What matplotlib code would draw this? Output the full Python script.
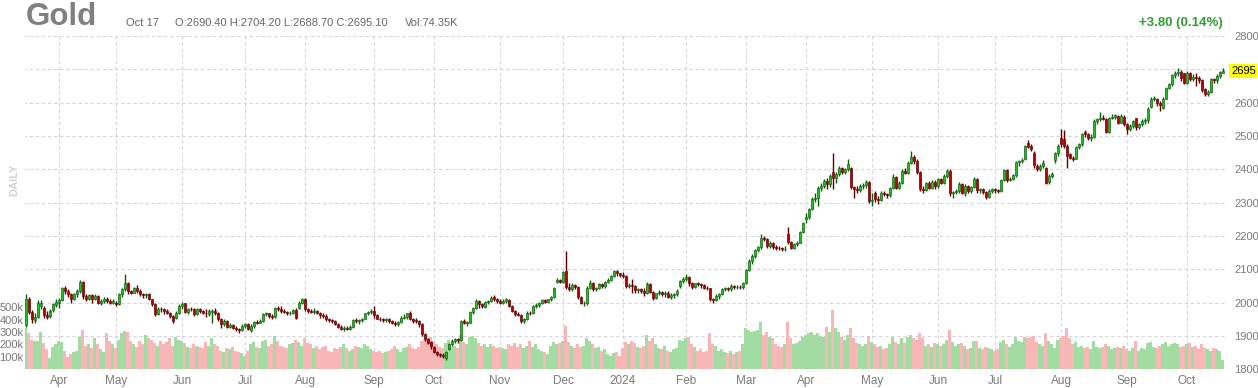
import numpy as np
import pandas as pd
import matplotlib
matplotlib.use('Agg')
import matplotlib.pyplot as plt
import matplotlib.transforms as mtransforms

plt.rcParams['font.family'] = ['Liberation Sans', 'DejaVu Sans']

# trading calendar (exchange holidays skipped)
holidays = ['2023-04-07', '2023-05-29', '2023-06-19', '2023-07-04', '2023-09-04',
            '2023-11-23', '2023-12-25', '2024-01-01', '2024-01-15', '2024-02-19',
            '2024-03-29', '2024-05-27', '2024-06-19', '2024-07-04', '2024-09-02']
days = pd.bdate_range('2023-03-17', '2024-10-17', freq='C', holidays=holidays)

month_labels = ['Apr', 'May', 'Jun', 'Jul', 'Aug', 'Sep', 'Oct', 'Nov', 'Dec', '2024',
                'Feb', 'Mar', 'Apr', 'May', 'Jun', 'Jul', 'Aug', 'Sep', 'Oct']

opens = [
    1932, 2010, 1972, 1948, 1958, 1990, 1985, 1962, 1960, 1978, 1993,
    2000, 2008, 2043, 2035, 2025, 2012, 2025, 2035, 2062, 2020, 2012, 2022, 2012, 2020, 1998, 2005, 2012, 2005, 2000,
    2000, 1995, 2025, 2040, 2060, 2035, 2030, 2045, 2035, 2025, 2022, 2025, 2010, 1995, 1965, 1982, 1980, 1975, 1970, 1960, 1955, 1970,
    1990, 1998, 1972, 1982, 1980, 1965, 1980, 1975, 1970, 1965, 1972, 1975, 1970, 1950, 1935, 1945, 1928, 1932, 1925, 1922, 1918,
    1930, 1935, 1918, 1930, 1942, 1940, 1945, 1965, 1968, 1960, 1958, 1985, 1980, 1975, 1972, 1968, 1970, 1978, 1985, 2000,
    2010, 1980, 1975, 1972, 1975, 1968, 1962, 1960, 1950, 1948, 1945, 1935, 1928, 1922, 1925, 1922, 1928, 1948, 1945, 1948, 1952, 1968, 1972,
    1975, 1962, 1952, 1950, 1948, 1950, 1945, 1940, 1935, 1942, 1955, 1958, 1968, 1952, 1948, 1945, 1935, 1905, 1890, 1882,
    1868, 1852, 1845, 1842, 1835, 1862, 1875, 1885, 1890, 1888, 1945, 1940, 1940, 1972, 1985, 2005, 1995, 1988, 2002, 2005, 2018, 2010,
    2005, 2000, 2005, 2008, 1990, 1975, 1965, 1963, 1945, 1950, 1970, 1968, 1990, 1993, 1998, 2008, 2003, 2010, 2018, 2062, 2068,
    2062, 2095, 2048, 2040, 2052, 2047, 2018, 1998, 1998, 2045, 2060, 2040, 2045, 2055, 2050, 2062, 2068, 2080, 2095, 2088,
    2082, 2080, 2050, 2053, 2050, 2038, 2040, 2035, 2028, 2055, 2033, 2013, 2028, 2032, 2025, 2028, 2018, 2022, 2025, 2050, 2065,
    2072, 2078, 2060, 2048, 2058, 2055, 2052, 2045, 2043, 2010, 2008, 2020, 2025, 2040, 2043, 2040, 2050, 2046, 2048, 2046,
    2058, 2098, 2126, 2141, 2158, 2166, 2195, 2192, 2170, 2180, 2168, 2165, 2164, 2160, 2205, 2183, 2165, 2175, 2180, 2212,
    2250, 2258, 2280, 2312, 2315, 2345, 2350, 2365, 2355, 2392, 2375, 2385, 2405, 2393, 2400, 2405, 2346, 2342, 2338, 2350, 2352, 2362,
    2305, 2330, 2310, 2308, 2330, 2325, 2322, 2343, 2378, 2345, 2360, 2395, 2390, 2420, 2438, 2425, 2393, 2340, 2338, 2358, 2345, 2362,
    2350, 2370, 2360, 2380, 2395, 2328, 2332, 2335, 2355, 2330, 2350, 2335, 2348, 2372, 2338, 2340, 2333, 2318, 2335,
    2340, 2338, 2336, 2368, 2398, 2368, 2372, 2382, 2422, 2425, 2430, 2478, 2470, 2450, 2410, 2400, 2410, 2403, 2362, 2380, 2428, 2448,
    2495, 2490, 2470, 2445, 2435, 2432, 2467, 2475, 2512, 2505, 2493, 2497, 2545, 2550, 2555, 2552, 2513, 2555, 2557, 2560, 2540, 2558,
    2535, 2522, 2530, 2553, 2528, 2535, 2545, 2548, 2588, 2612, 2610, 2598, 2585, 2612, 2645, 2655, 2682, 2688, 2692, 2688,
    2660, 2688, 2670, 2678, 2675, 2668, 2640, 2625, 2632, 2670, 2668, 2680, 2690.4,
]
highs = [
    2025, 2018, 1978, 1968, 2008, 2008, 1990, 1975, 1980, 2000, 2010,
    2015, 2048, 2050, 2040, 2030, 2030, 2040, 2068, 2066, 2025, 2025, 2025, 2025, 2022, 2010, 2018, 2018, 2010, 2012,
    2005, 2030, 2045, 2087, 2062, 2038, 2048, 2052, 2040, 2030, 2030, 2028, 2012, 1998, 1988, 1988, 1985, 1982, 1972, 1962, 1975, 1995,
    2002, 2000, 1985, 1988, 1983, 1985, 1985, 1978, 1980, 1980, 1980, 1985, 1972, 1955, 1950, 1948, 1938, 1935, 1930, 1925, 1935,
    1938, 1938, 1935, 1945, 1948, 1950, 1970, 1972, 1970, 1965, 1988, 1990, 1990, 1982, 1975, 1975, 1982, 1985, 2005, 2015,
    2013, 1985, 1982, 1985, 1978, 1972, 1968, 1965, 1955, 1952, 1948, 1940, 1932, 1930, 1930, 1932, 1952, 1955, 1950, 1955, 1970, 1975, 1980,
    1990, 1965, 1958, 1955, 1955, 1955, 1948, 1945, 1945, 1960, 1965, 1970, 1975, 1955, 1955, 1948, 1938, 1908, 1895, 1886,
    1870, 1855, 1850, 1848, 1856, 1880, 1890, 1895, 1895, 1948, 1950, 1945, 1975, 1988, 2010, 2008, 1998, 2005, 2008, 2020, 2022, 2015,
    2010, 2010, 2015, 2010, 1992, 1978, 1972, 1965, 1955, 1975, 1975, 1992, 1998, 2002, 2010, 2012, 2012, 2020, 2048, 2075, 2072,
    2095, 2155, 2058, 2058, 2055, 2050, 2020, 2005, 2050, 2068, 2062, 2048, 2058, 2060, 2065, 2075, 2082, 2098, 2098, 2090,
    2092, 2082, 2060, 2070, 2052, 2045, 2045, 2045, 2062, 2058, 2035, 2030, 2038, 2035, 2035, 2035, 2028, 2030, 2040, 2068, 2078,
    2085, 2080, 2062, 2060, 2062, 2060, 2055, 2050, 2045, 2015, 2025, 2030, 2045, 2048, 2048, 2055, 2052, 2052, 2052, 2062,
    2100, 2130, 2145, 2162, 2170, 2205, 2200, 2195, 2185, 2182, 2172, 2170, 2166, 2170, 2228, 2185, 2180, 2185, 2215, 2242,
    2270, 2285, 2318, 2330, 2350, 2358, 2372, 2375, 2385, 2448, 2392, 2410, 2408, 2405, 2432, 2408, 2350, 2350, 2355, 2360, 2368, 2365,
    2330, 2335, 2320, 2335, 2335, 2330, 2348, 2385, 2380, 2365, 2400, 2405, 2425, 2455, 2442, 2430, 2395, 2350, 2362, 2365, 2368, 2368,
    2375, 2375, 2385, 2400, 2400, 2335, 2340, 2362, 2358, 2355, 2352, 2350, 2378, 2375, 2345, 2345, 2335, 2340, 2345,
    2345, 2342, 2372, 2402, 2400, 2378, 2385, 2425, 2428, 2435, 2472, 2488, 2475, 2455, 2415, 2415, 2428, 2408, 2385, 2392, 2452, 2475,
    2522, 2518, 2475, 2450, 2440, 2470, 2480, 2510, 2518, 2508, 2505, 2550, 2555, 2572, 2562, 2555, 2558, 2565, 2565, 2562, 2565, 2562,
    2538, 2535, 2548, 2555, 2540, 2550, 2555, 2588, 2618, 2620, 2615, 2605, 2618, 2648, 2658, 2685, 2695, 2705, 2698, 2690,
    2695, 2692, 2685, 2688, 2680, 2670, 2645, 2638, 2675, 2675, 2685, 2695, 2704.2,
]
lows = [
    1928, 1965, 1940, 1940, 1955, 1982, 1955, 1952, 1955, 1972, 1988,
    1985, 2004, 2025, 2018, 2000, 2008, 2018, 2030, 2012, 2005, 2008, 1998, 2008, 1995, 1992, 2000, 2000, 1995, 1995,
    1990, 1992, 2018, 2035, 2025, 2025, 2028, 2030, 2020, 2015, 2015, 2008, 1990, 1960, 1962, 1972, 1965, 1965, 1955, 1940, 1950, 1965,
    1980, 1970, 1965, 1975, 1960, 1962, 1970, 1965, 1958, 1960, 1938, 1962, 1945, 1925, 1930, 1925, 1925, 1920, 1915, 1908, 1915,
    1925, 1918, 1912, 1925, 1935, 1938, 1942, 1960, 1955, 1952, 1955, 1975, 1968, 1968, 1962, 1962, 1965, 1950, 1980, 1995,
    1975, 1970, 1968, 1965, 1965, 1955, 1955, 1945, 1942, 1940, 1932, 1925, 1918, 1915, 1918, 1918, 1925, 1940, 1935, 1942, 1950, 1962, 1965,
    1955, 1950, 1945, 1942, 1942, 1940, 1935, 1930, 1930, 1938, 1950, 1952, 1948, 1938, 1938, 1928, 1900, 1885, 1875, 1862,
    1848, 1840, 1836, 1835, 1828, 1858, 1870, 1880, 1880, 1885, 1935, 1930, 1938, 1965, 1982, 1985, 1985, 1985, 1995, 2002, 2005, 2000,
    1995, 1995, 2000, 1988, 1972, 1960, 1960, 1940, 1940, 1948, 1962, 1965, 1985, 1988, 1995, 1998, 2000, 2005, 2015, 2058, 2058,
    2058, 2040, 2035, 2035, 2040, 2012, 1995, 1990, 1992, 2040, 2035, 2035, 2042, 2045, 2045, 2058, 2065, 2078, 2080, 2078,
    2075, 2045, 2045, 2030, 2030, 2030, 2030, 2020, 2025, 2030, 2008, 2010, 2022, 2020, 2018, 2015, 2012, 2015, 2020, 2045, 2058,
    2065, 2050, 2040, 2045, 2050, 2045, 2040, 2038, 2005, 2000, 2005, 2012, 2022, 2035, 2035, 2035, 2040, 2040, 2040, 2042,
    2055, 2095, 2115, 2135, 2152, 2160, 2185, 2165, 2165, 2162, 2158, 2158, 2155, 2155, 2175, 2160, 2162, 2170, 2178, 2208,
    2240, 2252, 2278, 2302, 2290, 2335, 2345, 2340, 2348, 2342, 2360, 2380, 2385, 2385, 2395, 2340, 2315, 2330, 2332, 2342, 2345, 2300,
    2290, 2302, 2295, 2305, 2320, 2315, 2318, 2340, 2340, 2340, 2355, 2385, 2385, 2415, 2415, 2385, 2335, 2330, 2335, 2340, 2340, 2340,
    2345, 2355, 2355, 2375, 2320, 2315, 2325, 2330, 2325, 2320, 2330, 2330, 2345, 2330, 2330, 2325, 2310, 2315, 2330,
    2330, 2328, 2332, 2365, 2362, 2365, 2368, 2378, 2410, 2420, 2428, 2465, 2455, 2405, 2395, 2395, 2405, 2355, 2355, 2375, 2420, 2440,
    2468, 2465, 2403, 2430, 2425, 2430, 2460, 2470, 2498, 2488, 2485, 2495, 2535, 2545, 2548, 2510, 2510, 2550, 2550, 2535, 2538, 2530,
    2505, 2515, 2525, 2518, 2522, 2530, 2535, 2540, 2585, 2605, 2590, 2575, 2580, 2610, 2640, 2650, 2675, 2680, 2665, 2655,
    2655, 2665, 2665, 2650, 2660, 2632, 2620, 2620, 2628, 2660, 2660, 2675, 2688.7,
]
closes = [
    2010, 1972, 1950, 1958, 2000, 2000, 1962, 1958, 1975, 1995, 2003,
    2008, 2043, 2035, 2025, 2012, 2025, 2035, 2062, 2020, 2012, 2022, 2012, 2020, 1998, 2005, 2012, 2005, 2000, 2005,
    1995, 2025, 2040, 2060, 2035, 2030, 2045, 2035, 2025, 2022, 2025, 2012, 1995, 1965, 1982, 1980, 1975, 1970, 1960, 1945, 1970, 1990,
    1995, 1972, 1982, 1980, 1965, 1980, 1975, 1970, 1968, 1975, 1976, 1970, 1950, 1935, 1945, 1928, 1932, 1925, 1922, 1918, 1930,
    1935, 1922, 1930, 1942, 1940, 1945, 1965, 1968, 1960, 1958, 1985, 1980, 1975, 1972, 1968, 1970, 1978, 1955, 2000, 2010,
    1980, 1975, 1972, 1975, 1968, 1962, 1960, 1950, 1948, 1945, 1935, 1928, 1922, 1925, 1922, 1928, 1948, 1945, 1948, 1952, 1968, 1972, 1975,
    1962, 1952, 1950, 1948, 1950, 1945, 1940, 1935, 1942, 1955, 1958, 1968, 1952, 1945, 1945, 1935, 1905, 1890, 1880, 1870,
    1852, 1845, 1842, 1840, 1852, 1875, 1885, 1890, 1888, 1945, 1940, 1940, 1972, 1985, 2005, 1995, 1990, 2002, 2005, 2015, 2010, 2005,
    2000, 2005, 2010, 1990, 1975, 1965, 1963, 1945, 1950, 1970, 1968, 1990, 1993, 1998, 2008, 2003, 2010, 2018, 2045, 2068, 2062,
    2092, 2048, 2040, 2052, 2047, 2018, 1998, 1998, 2045, 2060, 2040, 2045, 2055, 2050, 2062, 2068, 2080, 2095, 2088, 2082,
    2080, 2050, 2053, 2050, 2038, 2040, 2035, 2028, 2055, 2033, 2013, 2028, 2032, 2025, 2028, 2018, 2022, 2025, 2035, 2065, 2072,
    2078, 2060, 2048, 2058, 2055, 2052, 2045, 2043, 2010, 2008, 2020, 2025, 2040, 2043, 2040, 2050, 2046, 2048, 2046, 2058,
    2098, 2126, 2141, 2158, 2166, 2195, 2192, 2170, 2180, 2168, 2165, 2164, 2160, 2162, 2183, 2165, 2175, 2180, 2212, 2238,
    2258, 2280, 2312, 2315, 2345, 2350, 2365, 2355, 2380, 2375, 2385, 2405, 2393, 2400, 2415, 2346, 2342, 2338, 2350, 2352, 2362, 2305,
    2308, 2310, 2308, 2330, 2325, 2322, 2343, 2378, 2345, 2360, 2395, 2390, 2420, 2438, 2425, 2393, 2340, 2338, 2358, 2345, 2362, 2350,
    2370, 2360, 2380, 2395, 2328, 2332, 2335, 2355, 2330, 2350, 2335, 2348, 2372, 2338, 2340, 2333, 2318, 2335, 2340,
    2338, 2336, 2368, 2398, 2368, 2372, 2382, 2422, 2425, 2428, 2470, 2468, 2460, 2412, 2400, 2410, 2418, 2360, 2380, 2385, 2448, 2470,
    2475, 2470, 2440, 2435, 2432, 2467, 2475, 2505, 2505, 2493, 2497, 2545, 2550, 2555, 2552, 2513, 2555, 2557, 2562, 2540, 2560, 2535,
    2522, 2530, 2545, 2528, 2535, 2545, 2548, 2582, 2612, 2615, 2598, 2592, 2612, 2645, 2655, 2682, 2688, 2692, 2673, 2660,
    2690, 2670, 2678, 2675, 2668, 2638, 2625, 2632, 2670, 2668, 2680, 2691.3, 2695.1,
]
# daily volume, thousands of contracts
volumes = [
    335, 290, 240, 225, 230, 300, 210, 160, 90, 180, 200,
    230, 220, 150, 100, 120, 140, 150, 260, 320, 190, 200, 170, 250, 200, 160, 140, 290, 230, 200,
    170, 240, 290, 310, 300, 230, 200, 180, 230, 200, 280, 250, 240, 210, 190, 230, 200, 220, 250, 190, 260, 240,
    230, 210, 180, 170, 200, 190, 180, 170, 220, 190, 250, 200, 190, 150, 140, 170, 160, 180, 150, 140, 130,
    110, 150, 200, 220, 180, 170, 230, 240, 190, 200, 270, 230, 190, 180, 170, 200, 210, 240, 220, 190,
    250, 210, 200, 170, 190, 160, 180, 190, 150, 140, 170, 160, 180, 200, 170, 150, 160, 190, 180, 170, 200, 190, 160,
    150, 140, 150, 130, 140, 150, 160, 190, 160, 140, 170, 180, 200, 170, 160, 180, 230, 240, 250, 260,
    230, 200, 180, 170, 210, 240, 180, 190, 170, 280, 220, 200, 260, 270, 250, 210, 190, 200, 180, 200, 190, 170,
    180, 170, 160, 200, 190, 210, 180, 200, 170, 190, 230, 180, 200, 160, 150, 140, 120, 190, 220, 200, 210,
    230, 350, 220, 190, 170, 200, 180, 190, 250, 230, 200, 170, 180, 150, 160, 120, 110, 130, 140, 110,
    170, 220, 200, 230, 210, 180, 170, 190, 280, 230, 250, 200, 170, 160, 190, 150, 140, 160, 170, 240, 230,
    250, 260, 200, 180, 150, 160, 140, 150, 290, 200, 190, 150, 160, 140, 130, 150, 120, 140, 150, 200,
    330, 320, 300, 310, 320, 380, 280, 300, 260, 250, 200, 190, 180, 200, 380, 250, 200, 210, 230, 260,
    280, 290, 300, 280, 290, 270, 260, 340, 300, 475, 330, 300, 260, 240, 280, 330, 250, 210, 200, 190, 200, 270,
    220, 200, 180, 190, 160, 170, 200, 260, 220, 200, 250, 210, 260, 280, 250, 240, 290, 250, 190, 200, 180, 210,
    200, 190, 200, 240, 320, 220, 190, 200, 210, 190, 160, 170, 230, 230, 170, 160, 180, 170, 160,
    150, 160, 220, 240, 200, 180, 200, 260, 230, 220, 260, 250, 260, 270, 220, 200, 190, 290, 230, 200, 170, 240,
    250, 270, 335, 250, 200, 220, 180, 190, 170, 180, 160, 230, 180, 170, 180, 200, 190, 160, 170, 180, 170, 190,
    160, 150, 170, 230, 150, 170, 160, 210, 220, 180, 170, 190, 200, 220, 190, 200, 210, 200, 180, 190,
    200, 210, 180, 190, 160, 200, 170, 160, 150, 170, 160, 150, 74.35,
]

o = np.array(opens, float)
h = np.array(highs, float)
l = np.array(lows, float)
c = np.array(closes, float)
v = np.array(volumes, float)
n = len(days)
if not (len(o) == len(h) == len(l) == len(c) == len(v) == n):
    raise SystemExit('length mismatch %d %d %d %d %d %d' % (n, len(o), len(h), len(l), len(c), len(v)))

x = np.arange(n)
up = c >= o

# first trading day of each month from April 2023
first = [i for i in range(1, n) if days[i].month != days[i - 1].month]

fig = plt.figure(figsize=(12.58, 3.88), dpi=100)
rect = [25 / 1258, 18.7 / 388, 1201 / 1258, 333.3 / 388]
axv = fig.add_axes(rect)
ax = fig.add_axes(rect, sharex=axv)
ax.patch.set_alpha(0)

grid_kw = dict(color='#d6d6d6', lw=0.8, ls=(0, (3, 2.5)))

# volume
axv.bar(x[up], v[up], width=1.0, color='#a2dca2', lw=0, zorder=2)
axv.bar(x[~up], v[~up], width=1.0, color='#f8b6b6', lw=0, zorder=2)
axv.set_ylim(0, 2685)
axv.set_yticks([100, 200, 300, 400, 500], ['100k', '200k', '300k', '400k', '500k'])
axv.tick_params(axis='y', length=0, pad=1, labelsize=8, labelcolor='#777777')
axv.tick_params(axis='x', length=0, labelbottom=False)
axv.set_xticks(first)
axv.grid(axis='x', **grid_kw)
axv.grid(axis='y', visible=False)
axv.set_axisbelow(True)
axv.hlines(np.arange(1800, 2801, 100), -1, n + 1, transform=ax.transData, zorder=1, **grid_kw)

# candles
body = np.maximum(np.abs(c - o), 1.2)
bottom = np.minimum(o, c)
ax.vlines(x[up], l[up], h[up], color='#0c5c0c', lw=1.0, zorder=3)
ax.vlines(x[~up], l[~up], h[~up], color='#5c0000', lw=1.0, zorder=3)
ax.bar(x[up], body[up], bottom=bottom[up], width=0.78, color='#22c022',
       edgecolor='#0c5c0c', lw=0.45, zorder=4)
ax.bar(x[~up], body[~up], bottom=bottom[~up], width=0.78, color='#b80000',
       edgecolor='#5c0000', lw=0.45, zorder=4)

ax.set_xlim(-0.33, 400.0)
ax.set_ylim(1800, 2800)
ax.yaxis.tick_right()
pticks = [1800, 1900, 2000, 2100, 2200, 2300, 2400, 2500, 2600, 2800]
ax.set_yticks(pticks, [str(t) for t in pticks])
ax.tick_params(axis='y', length=0, pad=6, labelsize=8, labelcolor='#7a7a7a')
ax.set_xticks(first, month_labels)
ax.tick_params(axis='x', length=0, pad=4, labelsize=8.5, labelcolor='#7a7a7a')
for a in (ax, axv):
    for s in a.spines.values():
        s.set_visible(False)

# last price tag
trans = mtransforms.blended_transform_factory(ax.transAxes, ax.transData)
ax.text(1.0 + 5 / 1201, c[-1], '%d' % round(c[-1]), transform=trans, ha='left', va='center',
        fontsize=8, color='#000000',
        bbox=dict(facecolor='#ffff00', edgecolor='none', pad=1.2))

# header
fig.text(26 / 1258, 1 - 17 / 388, 'Gold', fontsize=22.5, weight='bold', color='#808080', va='center')
fig.text(126 / 1258, 1 - 23 / 388, 'Oct 17', fontsize=8, color='#666666', va='center')
fig.text(175 / 1258, 1 - 23 / 388, 'O:%.2f H:%.2f L:%.2f C:%.2f' % (o[-1], h[-1], l[-1], c[-1]),
         fontsize=8, color='#666666', va='center')
fig.text(405 / 1258, 1 - 23 / 388, 'Vol:%.2fK' % v[-1], fontsize=8, color='#666666', va='center')
chg = c[-1] - c[-2]
fig.text(1223 / 1258, 1 - 23 / 388, '%+.2f (%.2f%%)' % (chg, chg / c[-2] * 100),
         fontsize=9.5, weight='bold', color='#2f9e2f', ha='right', va='center')
fig.text(14 / 1258, 1 - 180 / 388, 'DAILY', fontsize=8, weight='bold', color='#d2d2d2',
         rotation=90, ha='center', va='center')

fig.savefig('out.png', dpi=100)
